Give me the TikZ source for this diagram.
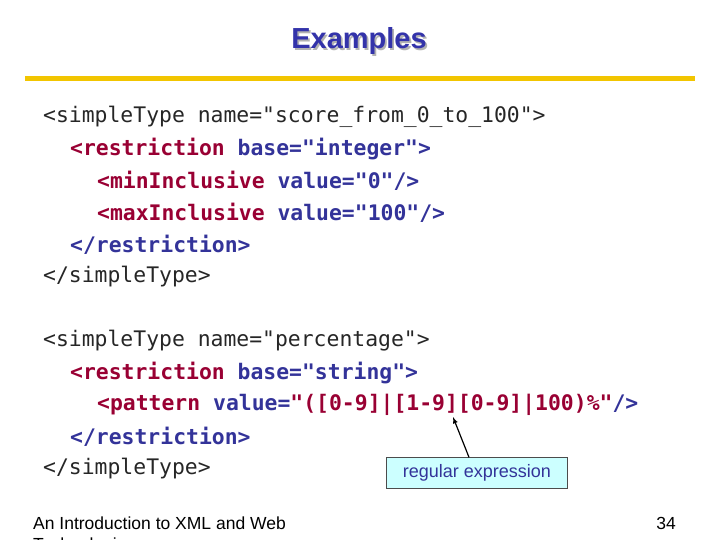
\documentclass[tikz,border=0pt]{standalone}
\usepackage{fontspec}
\setmainfont{Liberation Sans}
\setmonofont{DejaVu Sans Mono}
\usepackage{xcolor}
\definecolor{tagred}{HTML}{990033}
\definecolor{attblue}{HTML}{333399}
\definecolor{titleblue}{HTML}{3333AA}
\definecolor{rulegold}{HTML}{F2C500}
\definecolor{notecyan}{HTML}{CCFFFF}
\newcommand{\tg}[1]{\textcolor{tagred}{#1}}
\newcommand{\at}[1]{\textcolor{attblue}{#1}}
\begin{document}
\begin{tikzpicture}[x=1pt,y=-1pt]
\tikzset{code/.style={anchor=west,inner sep=0,font=\ttfamily\fontsize{21.4}{24}\selectfont},
  inner/.style={code,font=\ttfamily\bfseries\fontsize{21.4}{24}\selectfont}}
\useasboundingbox (0,0) rectangle (720,540);
% title
\node[text=gray!60,font=\bfseries\fontsize{29}{32}\selectfont] at (360.8,42.8) {Examples};
\node[text=titleblue,font=\bfseries\fontsize{29}{32}\selectfont] (title) at (359,41) {Examples};
\fill[rulegold] (25,76.5) rectangle (695,81.5);
% first example
\node[code,text=black!85] (s1) at (43,117) {<simpleType name="score\_from\_0\_to\_100">};
\node[inner] (r1) at (70,149) {\tg{<restriction} \at{base="integer">}};
\node[inner] (m1) at (97,181) {\tg{<minInclusive} \at{value="0"/>}};
\node[inner] (m2) at (97,213) {\tg{<maxInclusive} \at{value="100"/>}};
\node[inner,text=attblue] (r2) at (70,245) {</restriction>};
\node[code,text=black!85] (s2) at (43,277) {</simpleType>};
% second example
\node[code,text=black!85] (s3) at (43,341) {<simpleType name="percentage">};
\node[inner] (r3) at (70,373) {\tg{<restriction} \at{base="string">}};
\node[inner] (p1) at (97,405) {\tg{<pattern} \at{value=}\tg{"([0-9]|[1-9][0-9]|100)\%"}\at{/>}};
\node[inner,text=attblue] (r4) at (70,437) {</restriction>};
\node[code,text=black!85] (s4) at (43,469) {</simpleType>};
% note
\node[draw=black!70,fill=notecyan,text=attblue,minimum width=181,minimum height=31,inner sep=2,
  font=\fontsize{18}{21}\selectfont] (note) at (477,473) {regular expression};
\coordinate (tip) at (453,417);
\draw[-latex,line width=1.2pt] (note.north -| 469,0) -- (tip);
% footer
\node[anchor=west,inner sep=0,font=\fontsize{17.5}{20}\selectfont] (foot) at (33,523) {An Introduction to XML and Web};
\node[anchor=west,inner sep=0,font=\fontsize{17.5}{20}\selectfont] (foot2) at (33,546) {Technologies};
\node[anchor=east,inner sep=0,font=\fontsize{17.5}{20}\selectfont] (page) at (676,523) {34};
\end{tikzpicture}
\end{document}
